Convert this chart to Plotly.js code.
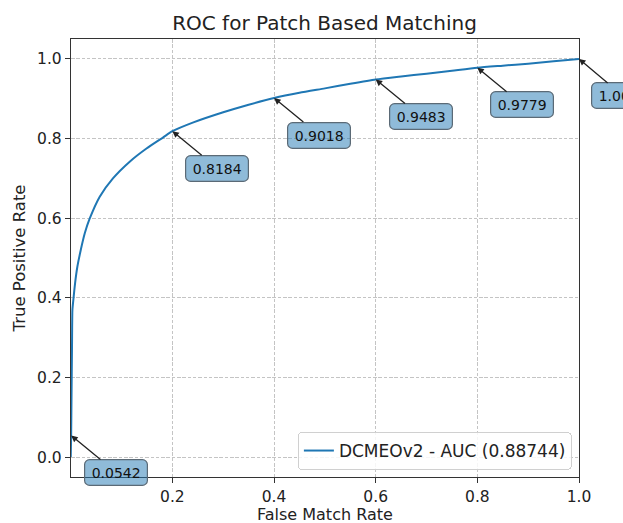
<!DOCTYPE html>
<html>
<head>
<meta charset="utf-8">
<script src="https://cdn.plot.ly/plotly-3.0.1.min.js"></script>
<style>html,body{margin:0;padding:0;background:#fff;}#chart{width:623px;height:523px;}</style>
</head>
<body>
<div id="chart"></div>
<script>
const fpr = [0, 0.0008, 0.0015, 0.0025, 0.0033, 0.0053, 0.0085, 0.013, 0.0197, 0.0276, 0.037, 0.057, 0.083, 0.116, 0.149, 0.182, 0.2, 0.24, 0.3, 0.35, 0.4, 0.45, 0.5, 0.55, 0.6, 0.65, 0.7, 0.75, 0.8, 0.85, 0.9, 0.95, 1.0];
const tpr = [0, 0.0542, 0.15, 0.28, 0.37, 0.397, 0.4365, 0.478, 0.52, 0.562, 0.598, 0.654, 0.700, 0.742, 0.775, 0.803, 0.8184, 0.840, 0.866, 0.885, 0.9018, 0.915, 0.926, 0.9375, 0.9483, 0.956, 0.963, 0.9705, 0.9779, 0.983, 0.988, 0.994, 1.0];
const annX = [0.0008, 0.2, 0.4, 0.6, 0.8, 1.0];
const annY = [0.0542, 0.8184, 0.9018, 0.9483, 0.9779, 1.0];
const annLabels = ["0.0542", "0.8184", "0.9018", "0.9483", "0.9779", "1.0000"];
const xTicks = [0.2, 0.4, 0.6, 0.8, 1.0];
const yTicks = [0.0, 0.2, 0.4, 0.6, 0.8, 1.0];
const seriesName = "DCMEOv2 - AUC (0.88744)";
const xTitle = "False Match Rate";
const yTitle = "True Positive Rate";

const font = "DejaVu Sans, sans-serif";
const annotations = annX.map((x, i) => ({
  x: x, y: annY[i], xref: 'x', yref: 'y',
  text: annLabels[i], showarrow: true,
  ax: 45, ay: 37, axref: 'pixel', ayref: 'pixel',
  arrowhead: 2, arrowsize: 1, arrowwidth: 1.3, arrowcolor: '#222',
  bgcolor: 'rgba(31,119,180,0.5)', bordercolor: '#5b6a76', borderwidth: 1.2, borderpad: 2,
  width: 58, height: 21,
  font: {family: font, size: 14, color: '#111'}
}));
// x-axis title placed as a paper annotation for exact vertical position
annotations.push({
  text: xTitle, xref: 'paper', yref: 'paper', x: 0.5, y: -0.085,
  xanchor: 'center', yanchor: 'middle', showarrow: false,
  font: {family: font, size: 16, color: '#222'}
});

const trace = {
  x: fpr, y: tpr, type: 'scatter', mode: 'lines', name: seriesName,
  line: {color: '#1f77b4', width: 2, shape: 'spline', smoothing: 0.6}
};

const axisCommon = {
  showline: true, mirror: true, linecolor: '#333', linewidth: 1.2,
  ticks: 'outside', ticklen: 5, tickcolor: '#333',
  showgrid: true, gridcolor: '#c4c4c4', griddash: '3.5px,1.8px', gridwidth: 1,
  zeroline: false, tickfont: {family: font, size: 15.5, color: '#222'}
};

const layout = {
  width: 623, height: 523,
  margin: {l: 71, r: 44, t: 39, b: 46},
  paper_bgcolor: '#fff', plot_bgcolor: '#fff',
  title: {text: 'ROC for Patch Based Matching', font: {family: font, size: 20, color: '#222'}, x: 0.521, xanchor: 'center', y: 0.956, yanchor: 'middle'},
  xaxis: Object.assign({}, axisCommon, {range: [0.0005, 1], tickvals: xTicks, ticktext: xTicks.map(v => v.toFixed(1))}),
  yaxis: Object.assign({}, axisCommon, {range: [-0.05, 1.05], tickvals: yTicks, ticktext: yTicks.map(v => v.toFixed(1)),
    title: {text: yTitle, font: {family: font, size: 16.5, color: '#222'}, standoff: 7}}),
  showlegend: true,
  legend: {x: 0.986, y: 0.016, xanchor: 'right', yanchor: 'bottom', bgcolor: 'rgba(255,255,255,0.85)',
    bordercolor: '#d0d0d0', borderwidth: 1, font: {family: font, size: 17, color: '#222'}},
  annotations: annotations
};

Plotly.newPlot('chart', [trace], layout, {displayModeBar: false, staticPlot: true}).then(() => {
  document.querySelectorAll('.annotation rect.bg').forEach(r => { r.setAttribute('rx', 5); r.setAttribute('ry', 5); });
  document.querySelectorAll('.legend rect.bg').forEach(r => { r.setAttribute('rx', 4); r.setAttribute('ry', 4); });
});
</script>
</body>
</html>
